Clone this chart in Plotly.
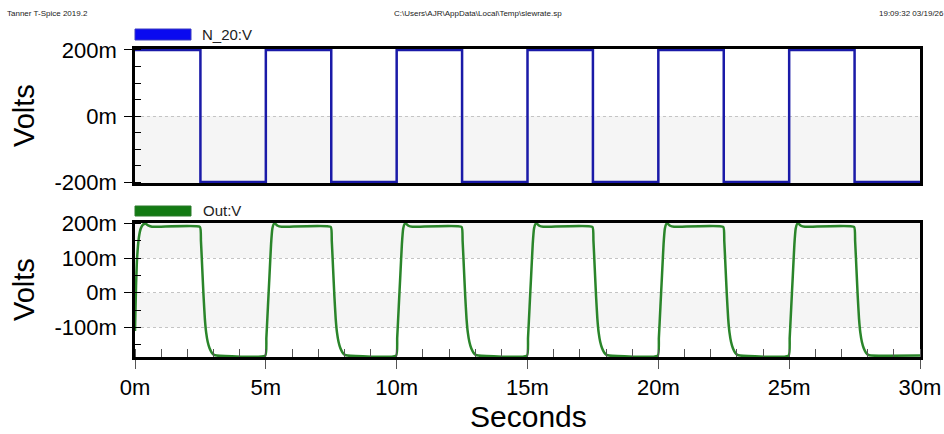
import plotly.graph_objects as go

W, H = 944, 434

# ---------------- data ----------------
# Input square wave N_20:V (ms, mV), step-held
N20_T = [0, 2.5, 5, 7.5, 10, 12.5, 15, 17.5, 20, 22.5, 25, 27.5, 30]
N20_V = [200, -200, 200, -200, 200, -200, 200, -200, 200, -200, 200, -200, -200]

# Output Out:V (ms, mV)
OUT_T = [
    0.00, 0.04, 0.08, 0.15, 0.22, 0.30, 0.40, 0.50, 0.65,
    2.48, 2.52, 2.57, 2.62, 2.67, 2.72, 2.78, 2.85, 2.93, 3.02, 3.12,
    4.98, 5.02, 5.08, 5.14, 5.20, 5.25, 5.30, 5.36, 5.45, 5.60,
    7.48, 7.52, 7.57, 7.62, 7.67, 7.72, 7.78, 7.85, 7.93, 8.02, 8.12,
    9.98, 10.02, 10.08, 10.14, 10.20, 10.25, 10.30, 10.36, 10.45, 10.60,
    12.48, 12.52, 12.57, 12.62, 12.67, 12.72, 12.78, 12.85, 12.93, 13.02, 13.12,
    14.98, 15.02, 15.08, 15.14, 15.20, 15.25, 15.30, 15.36, 15.45, 15.60,
    17.48, 17.52, 17.57, 17.62, 17.67, 17.72, 17.78, 17.85, 17.93, 18.02, 18.12,
    19.98, 20.02, 20.08, 20.14, 20.20, 20.25, 20.30, 20.36, 20.45, 20.60,
    22.48, 22.52, 22.57, 22.62, 22.67, 22.72, 22.78, 22.85, 22.93, 23.02, 23.12,
    24.98, 25.02, 25.08, 25.14, 25.20, 25.25, 25.30, 25.36, 25.45, 25.60,
    27.48, 27.52, 27.57, 27.62, 27.67, 27.72, 27.78, 27.85, 27.93, 28.02, 28.12,
    30.00,
]
OUT_V = [
    -110, 20, 100, 160, 185, 196, 199, 194, 190,
    190, 150, 70, -10, -75, -115, -142, -160, -172, -179, -181,
    -181, -130, -40, 50, 140, 185, 198, 199, 193, 190,
    190, 150, 70, -10, -75, -115, -142, -160, -172, -179, -181,
    -181, -130, -40, 50, 140, 185, 198, 199, 193, 190,
    190, 150, 70, -10, -75, -115, -142, -160, -172, -179, -181,
    -181, -130, -40, 50, 140, 185, 198, 199, 193, 190,
    190, 150, 70, -10, -75, -115, -142, -160, -172, -179, -181,
    -181, -130, -40, 50, 140, 185, 198, 199, 193, 190,
    190, 150, 70, -10, -75, -115, -142, -160, -172, -179, -181,
    -181, -130, -40, 50, 140, 185, 198, 199, 193, 190,
    190, 150, 70, -10, -75, -115, -142, -160, -172, -179, -181,
    -181,
]

X_TICKS = [0, 5, 10, 15, 20, 25, 30]
X_LABELS = ["0m", "5m", "10m", "15m", "20m", "25m", "30m"]
Y1_TICKS = [-200, 0, 200]
Y1_LABELS = ["-200m", "0m", "200m"]
Y2_TICKS = [-100, 0, 100, 200]
Y2_LABELS = ["-100m", "0m", "100m", "200m"]

# ---------------- layout helpers ----------------
def px_x(x):
    return x / W

def px_y(y):
    return 1 - y / H

PLOT_L, PLOT_R = 135, 920
TOP_T, TOP_B = 49, 183
BOT_T, BOT_B = 223, 357

FONT = "Liberation Sans, Arial, sans-serif"
BLUE_LINE = "#1a1aa8"
BLUE_KEY = "#0a0af0"
GREEN_LINE = "#2a852a"
GREEN_KEY = "#137a13"
BAND = "#f5f5f5"

fig = go.Figure()
fig.add_trace(go.Scatter(x=N20_T, y=N20_V, mode="lines", line=dict(color=BLUE_LINE, width=2.5, shape="hv"),
                         xaxis="x", yaxis="y", showlegend=False, hoverinfo="skip"))
fig.add_trace(go.Scatter(x=OUT_T, y=OUT_V, mode="lines", line=dict(color=GREEN_LINE, width=2.5, shape="spline", smoothing=0.4),
                         xaxis="x2", yaxis="y2", showlegend=False, hoverinfo="skip"))

axis_common = dict(showline=True, mirror=True, linecolor="black", linewidth=2.5, zeroline=False, automargin=False,
                   tickfont=dict(family=FONT, size=22, color="black"))

shapes = [
    # background bands
    dict(type="rect", xref="x", yref="y", x0=0, x1=30, y0=-203, y1=0, fillcolor=BAND, line_width=0, layer="below"),
    dict(type="rect", xref="x2", yref="y2", x0=0, x1=30, y0=100, y1=203, fillcolor=BAND, line_width=0, layer="below"),
    dict(type="rect", xref="x2", yref="y2", x0=0, x1=30, y0=-100, y1=0, fillcolor=BAND, line_width=0, layer="below"),
    # legend keys
    dict(type="rect", xref="paper", yref="paper", x0=px_x(135), x1=px_x(191), y0=px_y(40), y1=px_y(29),
         fillcolor=BLUE_KEY, line=dict(color="#3a3ac0", width=1)),
    dict(type="rect", xref="paper", yref="paper", x0=px_x(135), x1=px_x(191), y0=px_y(216), y1=px_y(206),
         fillcolor=GREEN_KEY, line=dict(color="#2a7a2a", width=1)),
]

annotations = [
    dict(text="Tanner T-Spice 2019.2", x=px_x(5), y=px_y(14), xref="paper", yref="paper", xanchor="left", yanchor="middle",
         showarrow=False, font=dict(family=FONT, size=8, color="#222")),
    dict(text="C:\\Users\\AJR\\AppData\\Local\\Temp\\slewrate.sp", x=px_x(478), y=px_y(14), xref="paper", yref="paper",
         xanchor="center", yanchor="middle", showarrow=False, font=dict(family=FONT, size=8, color="#222")),
    dict(text="19:09:32 03/19/26", x=px_x(946), y=px_y(14), xref="paper", yref="paper", xanchor="right", yanchor="middle",
         showarrow=False, font=dict(family=FONT, size=8, color="#222")),
    dict(text="N_20:V", x=px_x(200), y=px_y(34), xref="paper", yref="paper", xanchor="left", yanchor="middle",
         showarrow=False, font=dict(family=FONT, size=15, color="#222")),
    dict(text="Out:V", x=px_x(201), y=px_y(211), xref="paper", yref="paper", xanchor="left", yanchor="middle",
         showarrow=False, font=dict(family=FONT, size=15, color="#222")),
    dict(text="Volts", x=px_x(24), y=px_y((TOP_T + TOP_B) / 2), xref="paper", yref="paper", textangle=-90,
         xanchor="center", yanchor="middle", showarrow=False, font=dict(family=FONT, size=29, color="black")),
    dict(text="Volts", x=px_x(24), y=px_y((BOT_T + BOT_B) / 2), xref="paper", yref="paper", textangle=-90,
         xanchor="center", yanchor="middle", showarrow=False, font=dict(family=FONT, size=29, color="black")),
    dict(text="Seconds", x=px_x(528), y=px_y(416), xref="paper", yref="paper", xanchor="center", yanchor="middle",
         showarrow=False, font=dict(family=FONT, size=30, color="black")),
]

fig.update_layout(
    width=W, height=H, margin=dict(l=0, r=0, t=0, b=0, autoexpand=False),
    paper_bgcolor="white", plot_bgcolor="white",
    showlegend=False,
    xaxis=dict(domain=[px_x(PLOT_L), px_x(PLOT_R)], anchor="y", range=[0, 30], showticklabels=False, ticks="",
               showgrid=False, **{k: v for k, v in axis_common.items() if k != "tickfont"}),
    yaxis=dict(domain=[px_y(TOP_B), px_y(TOP_T)], anchor="x", range=[-203, 203],
               tickmode="array", tickvals=Y1_TICKS, ticktext=Y1_LABELS, ticks="outside", ticklen=8, tickwidth=1,
               tickcolor="black", ticklabelstandoff=3,
               showgrid=True, gridcolor="#c4c4c4", griddash="dot", gridwidth=1,
               minor=dict(tickmode="linear", tick0=0, dtick=50, ticks="inside", ticklen=6, tickcolor="black", showgrid=False),
               **axis_common),
    xaxis2=dict(domain=[px_x(PLOT_L), px_x(PLOT_R)], anchor="y2", range=[0, 30],
                tickmode="array", tickvals=X_TICKS, ticktext=X_LABELS, ticks="outside", ticklen=9, tickwidth=1,
                tickcolor="#555", showgrid=False,
                minor=dict(tickmode="linear", tick0=0, dtick=1, ticks="inside", ticklen=8, tickcolor="#555", showgrid=False),
                **axis_common),
    yaxis2=dict(domain=[px_y(BOT_B), px_y(BOT_T)], anchor="x2", range=[-185, 201],
                tickmode="array", tickvals=Y2_TICKS, ticktext=Y2_LABELS, ticks="outside", ticklen=8, tickwidth=1,
                tickcolor="black", ticklabelstandoff=3,
                showgrid=True, gridcolor="#c4c4c4", griddash="dot", gridwidth=1,
                minor=dict(tickmode="linear", tick0=0, dtick=50, ticks="inside", ticklen=6, tickcolor="black", showgrid=False),
                **axis_common),
    shapes=shapes,
    annotations=annotations,
)

fig.write_html("out.html")
